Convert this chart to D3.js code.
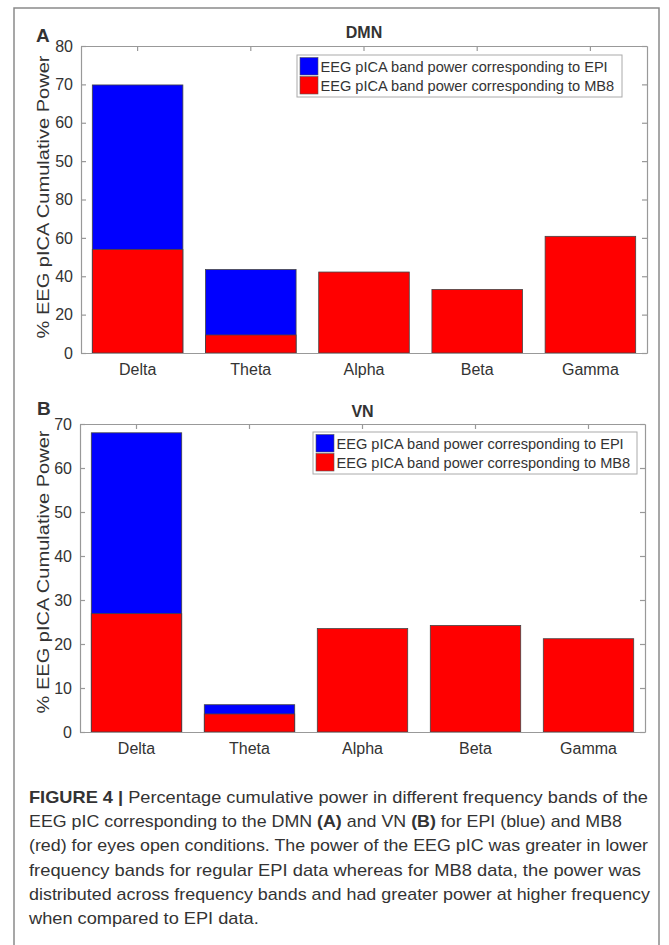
<!DOCTYPE html>
<html>
<head>
<meta charset="utf-8">
<script src="https://cdn.jsdelivr.net/npm/d3@7"></script>
<style>
  body { margin: 0; background: #fff; }
  svg { display: block; }
  text { font-family: "Liberation Sans", Arial, Helvetica, sans-serif; fill: #333; }
</style>
</head>
<body>
<script>
const bands = ["Delta", "Theta", "Alpha", "Beta", "Gamma"];

// Panel A (DMN). The printed axis restarts above 80 (0,20,40,60,80,50,60,70,80),
// so the values are kept in the units of the lower labels.
const dmnEpi = [139.7, 43.5, null, null, null];
const dmnMb8 = [54.0, 9.4, 42.2, 33.1, 60.8];
const dmnTicks = [0, 20, 40, 60, 80, 100, 120, 140, 160];
const dmnTickLabels = ["0", "20", "40", "60", "80", "50", "60", "70", "80"];

// Panel B (VN)
const vnEpi = [68.0, 6.2, null, null, null];
const vnMb8 = [26.9, 4.1, 23.5, 24.2, 21.2];
const vnTicks = [0, 10, 20, 30, 40, 50, 60, 70];
const vnTickLabels = ["0", "10", "20", "30", "40", "50", "60", "70"];

const legendLabels = [
  "EEG pICA band power corresponding to EPI",
  "EEG pICA band power corresponding to MB8"
];
const seriesColors = ["#0000ff", "#ff0000"];

const captionLines = [
  [["FIGURE 4 | ", true], ["Percentage cumulative power in different frequency bands of the", false]],
  [["EEG pIC corresponding to the DMN ", false], ["(A)", true], [" and VN ", false], ["(B)", true], [" for EPI (blue) and MB8", false]],
  [["(red) for eyes open conditions. The power of the EEG pIC was greater in lower", false]],
  [["frequency bands for regular EPI data whereas for MB8 data, the power was", false]],
  [["distributed across frequency bands and had greater power at higher frequency", false]],
  [["when compared to EPI data.", false]]
];
// printed line widths in px (last line follows the same squeeze as line 1)
const captionWidths = [619, 593, 619, 612, 621, null];

const W = 669, H = 945;
const svg = d3.select("body").append("svg")
    .attr("width", W)
    .attr("height", H);

// outer frame (open at the bottom, as in the cropped figure)
svg.append("path")
    .attr("d", `M14,${H} V8 H659 V${H}`)
    .attr("fill", "none")
    .attr("stroke", "#8a8a8a")
    .attr("stroke-width", 1.5);

function drawPanel(p) {
    const x = d3.scaleBand()
        .domain(bands)
        .range([p.x0, p.x1])
        .paddingInner(0.2)
        .paddingOuter(0.1);

    const y = d3.scaleLinear()
        .domain([0, p.ticks[p.ticks.length - 1]])
        .range([p.y0, p.y1]);

    const g = svg.append("g");

    const axisStyle = sel => {
        sel.attr("font-size", 16).attr("font-family", '"Liberation Sans", Arial, sans-serif');
        sel.selectAll("path, line").attr("stroke", "#999").attr("stroke-width", 1.2);
        sel.selectAll("text").attr("fill", "#333");
    };

    // box and inward ticks
    g.append("g")
        .attr("transform", `translate(${p.x0},0)`)
        .call(d3.axisLeft(y).tickValues(p.ticks)
            .tickFormat((d, i) => p.tickLabels[i])
            .tickSizeInner(-5).tickSizeOuter(0).tickPadding(8))
        .call(axisStyle);

    g.append("g")
        .attr("transform", `translate(${p.x1},0)`)
        .call(d3.axisRight(y).tickValues(p.ticks).tickFormat("")
            .tickSizeInner(-5).tickSizeOuter(0))
        .call(axisStyle);

    g.append("g")
        .attr("transform", `translate(0,${p.y1})`)
        .call(d3.axisTop(x).tickFormat("").tickSizeInner(-5).tickSizeOuter(0))
        .call(axisStyle);

    // bars: EPI behind, MB8 in front
    const rows = bands.map((b, i) => ({ band: b, epi: p.epi[i], mb8: p.mb8[i] }));

    g.selectAll("rect.epi")
        .data(rows.filter(d => d.epi != null))
        .enter().append("rect")
        .attr("class", "epi")
        .attr("x", d => x(d.band))
        .attr("y", d => y(d.epi))
        .attr("width", x.bandwidth())
        .attr("height", d => y(0) - y(d.epi))
        .attr("fill", seriesColors[0])
        .attr("stroke", "#444")
        .attr("stroke-width", 0.8);

    g.selectAll("rect.mb8")
        .data(rows)
        .enter().append("rect")
        .attr("class", "mb8")
        .attr("x", d => x(d.band))
        .attr("y", d => y(d.mb8))
        .attr("width", x.bandwidth())
        .attr("height", d => y(0) - y(d.mb8))
        .attr("fill", seriesColors[1])
        .attr("stroke", "#444")
        .attr("stroke-width", 0.8);

    g.append("g")
        .attr("transform", `translate(0,${p.y0})`)
        .call(d3.axisBottom(x).tickSizeInner(-5).tickSizeOuter(0).tickPadding(11))
        .call(axisStyle)
        .call(s => s.selectAll("line").remove());

    // titles
    g.append("text")
        .attr("x", (p.x0 + p.x1) / 2)
        .attr("y", p.titleY)
        .attr("text-anchor", "middle")
        .attr("font-weight", "bold")
        .attr("font-size", 16)
        .attr("fill", "#111")
        .text(p.title);

    g.append("text")
        .attr("x", p.letterX)
        .attr("y", p.letterY)
        .attr("font-weight", "bold")
        .attr("font-size", 19)
        .attr("fill", "#000")
        .text(p.letter);

    g.append("text")
        .attr("transform", `translate(49,${p.yTitleC}) rotate(-90)`)
        .attr("text-anchor", "middle")
        .attr("font-size", 17)
        .attr("fill", "#3a3a3a")
        .attr("textLength", 283)
        .attr("lengthAdjust", "spacingAndGlyphs")
        .text("% EEG pICA Cumulative Power");

    // legend
    const lg = g.append("g").attr("transform", `translate(${p.legX},${p.legY})`);
    lg.append("rect")
        .attr("width", p.legW).attr("height", 42)
        .attr("fill", "#fff").attr("stroke", "#aaa").attr("stroke-width", 1);
    legendLabels.forEach((lab, i) => {
        lg.append("rect")
            .attr("x", 3).attr("y", 2.5 + i * 19)
            .attr("width", 18).attr("height", 17.5)
            .attr("fill", seriesColors[i])
            .attr("stroke", "#555").attr("stroke-width", 0.6);
        lg.append("text")
            .attr("x", 23.5).attr("y", 16.5 + i * 19)
            .attr("font-size", 14.6)
            .attr("fill", "#222")
            .text(lab);
    });
}

drawPanel({
    x0: 81, x1: 647, y0: 353, y1: 46,
    epi: dmnEpi, mb8: dmnMb8, ticks: dmnTicks, tickLabels: dmnTickLabels,
    title: "DMN", titleY: 38, letter: "A", letterX: 36, letterY: 42,
    yTitleC: 197, legX: 297, legY: 55, legW: 325
});

drawPanel({
    x0: 80, x1: 645, y0: 732, y1: 424,
    epi: vnEpi, mb8: vnMb8, ticks: vnTicks, tickLabels: vnTickLabels,
    title: "VN", titleY: 417, letter: "B", letterX: 37, letterY: 415,
    yTitleC: 572, legX: 313, legY: 432, legW: 324
});

// caption: condensed face in the print, so each line is fitted to its printed width
const cap = svg.append("g");
const capTexts = captionLines.map((parts, i) => {
    const t = cap.append("text")
        .attr("x", 29)
        .attr("y", 803 + i * 24.2)
        .attr("font-size", 17)
        .attr("fill", "#2a2a2a");
    parts.forEach(([s, bold]) => {
        t.append("tspan")
            .attr("font-weight", bold ? "bold" : "normal")
            .text(s);
    });
    return t;
});
const squeeze = captionWidths[0] / capTexts[0].node().getComputedTextLength();
capTexts.forEach((t, i) => {
    const w = captionWidths[i] != null ? captionWidths[i] : t.node().getComputedTextLength() * squeeze;
    t.attr("textLength", w).attr("lengthAdjust", "spacingAndGlyphs");
});
</script>
</body>
</html>
